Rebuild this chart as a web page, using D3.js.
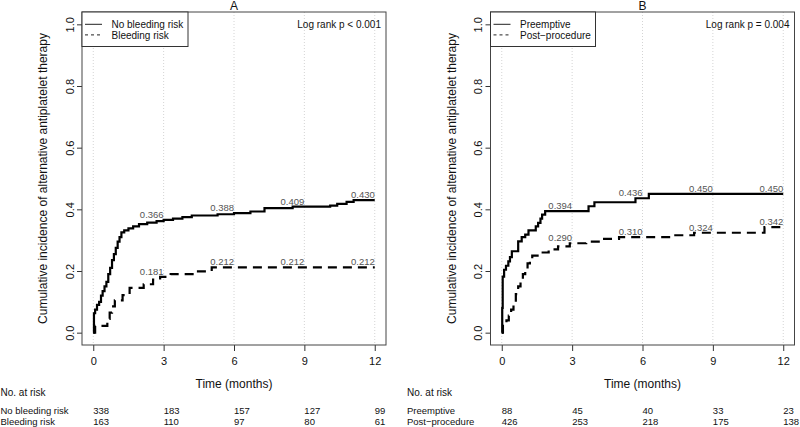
<!DOCTYPE html>
<html>
<head>
<meta charset="utf-8">
<script src="https://cdn.jsdelivr.net/npm/d3@7"></script>
<style>
  html, body { margin: 0; padding: 0; background: #fff; }
  svg { display: block; font-family: "Liberation Sans", Arial, Helvetica, sans-serif; }
</style>
</head>
<body>
<svg id="chart" width="800" height="427"></svg>
<script>
// ---------- Data ----------
const xTicks = [0, 3, 6, 9, 12];
const yTicks = [0.0, 0.2, 0.4, 0.6, 0.8, 1.0];
const yTickLabels = ["0.0", "0.2", "0.4", "0.6", "0.8", "1.0"];
const annotTimes = [3, 6, 9, 12];

// Panel A
const titleA = "A";
const seriesNamesA = ["No bleeding risk", "Bleeding risk"];
const pValueA = "Log rank p < 0.001";
const noBleedTime = [0, 0.03, 0.08, 0.16, 0.25, 0.33, 0.4, 0.48, 0.56, 0.64, 0.72, 0.8, 0.88, 0.96, 1.04, 1.12, 1.2, 1.32, 1.5, 1.7, 1.95, 2.3, 2.7, 3.0, 3.4, 3.8, 4.2, 5.3, 6.0, 6.7, 7.3, 8.5, 10.1, 10.4, 10.8, 11.1];
const noBleedValue = [0, 0.063, 0.075, 0.09, 0.1, 0.12, 0.135, 0.15, 0.165, 0.19, 0.21, 0.235, 0.255, 0.275, 0.295, 0.31, 0.325, 0.332, 0.338, 0.345, 0.352, 0.357, 0.362, 0.366, 0.370, 0.375, 0.380, 0.384, 0.388, 0.393, 0.404, 0.409, 0.412, 0.418, 0.424, 0.430];
const bleedTime = [0, 0.08, 0.6, 0.7, 0.8, 0.92, 1.25, 1.55, 2.15, 2.55, 2.85, 3.3, 4.3, 5.05];
const bleedValue = [0, 0.022, 0.045, 0.065, 0.085, 0.105, 0.122, 0.145, 0.157, 0.172, 0.181, 0.19, 0.199, 0.212];
const noBleedAnnot = [0.366, 0.388, 0.409, 0.430];
const bleedAnnot = [0.181, 0.212, 0.212, 0.212];
const noBleedAtRisk = [338, 183, 157, 127, 99];
const bleedAtRisk = [163, 110, 97, 80, 61];

// Panel B
const titleB = "B";
const seriesNamesB = ["Preemptive", "Post\u2212procedure"];
const pValueB = "Log rank p = 0.004";
const preTime = [0, 0.02, 0.04, 0.1, 0.18, 0.28, 0.35, 0.43, 0.7, 0.85, 1.0, 1.14, 1.45, 1.55, 1.65, 1.72, 1.85, 3.7, 3.95, 5.7, 6.27];
const preValue = [0, 0.08, 0.182, 0.204, 0.217, 0.231, 0.245, 0.264, 0.296, 0.31, 0.318, 0.332, 0.345, 0.356, 0.37, 0.383, 0.394, 0.41, 0.423, 0.436, 0.450];
const postTime = [0, 0.05, 0.2, 0.3, 0.4, 0.5, 0.6, 0.7, 0.8, 0.9, 1.0, 1.1, 1.2, 1.3, 1.6, 2.0, 2.4, 2.9, 3.6, 4.2, 5.0, 7.4, 8.2, 11.2];
const postValue = [0, 0.03, 0.04, 0.055, 0.075, 0.1, 0.125, 0.15, 0.17, 0.19, 0.205, 0.225, 0.24, 0.25, 0.26, 0.27, 0.28, 0.29, 0.295, 0.304, 0.31, 0.316, 0.324, 0.342];
const preAnnot = [0.394, 0.436, 0.450, 0.450];
const postAnnot = [0.290, 0.310, 0.324, 0.342];
const preAtRisk = [88, 45, 40, 33, 23];
const postAtRisk = [426, 253, 218, 175, 138];

const yAxisLabel = "Cumulative incidence of alternative antiplatelet therapy";
const xAxisLabel = "Time (months)";
const atRiskTitle = "No. at risk";

// ---------- Drawing ----------
const svg = d3.select("#chart");
const plotTop = 12, plotBottom = 345;
const yScale = d3.scaleLinear().domain([-0.04, 1.04]).range([plotBottom, plotTop]);

function drawPanel(cfg) {
  const g = svg.append("g");
  const x = d3.scaleLinear().domain([-0.48, 12.48]).range([cfg.left, cfg.right]);
  const y = yScale;

  // grid
  g.selectAll("line.grid").data(xTicks).join("line")
    .attr("x1", d => x(d)).attr("x2", d => x(d))
    .attr("y1", plotTop).attr("y2", plotBottom)
    .attr("stroke", "#d4d4d4").attr("stroke-width", 1).attr("stroke-dasharray", "1,2");

  // x axis
  const xAxis = d3.axisBottom(x).tickValues(xTicks).tickSize(6).tickPadding(6).tickFormat(d3.format("d"));
  const gx = g.append("g").attr("transform", `translate(0,${plotBottom})`).call(xAxis);
  gx.select(".domain").remove();
  gx.selectAll(".tick line").attr("stroke", "#333");
  gx.selectAll(".tick text").attr("font-size", 11).attr("fill", "#111")
    .attr("font-family", "Liberation Sans, Arial, sans-serif").attr("dy", "0.71em");

  // y axis
  const yAxis = d3.axisLeft(y).tickValues(yTicks).tickSize(5).tickFormat((d, i) => yTickLabels[i]);
  const gy = g.append("g").attr("transform", `translate(${cfg.left},0)`).call(yAxis);
  gy.select(".domain").remove();
  gy.selectAll(".tick line").attr("stroke", "#333");
  gy.selectAll(".tick text")
    .attr("font-size", 11).attr("fill", "#111")
    .attr("font-family", "Liberation Sans, Arial, sans-serif")
    .attr("x", null).attr("dy", null)
    .attr("text-anchor", "middle")
    .attr("transform", "translate(-12.5,0) rotate(-90)")
    .attr("dominant-baseline", "central");

  // box
  g.append("rect").attr("x", cfg.left).attr("y", plotTop)
    .attr("width", cfg.right - cfg.left).attr("height", plotBottom - plotTop)
    .attr("fill", "none").attr("stroke", "#444").attr("stroke-width", 1);

  // curves
  const stepLine = d3.line().x(d => x(d[0])).y(d => y(d[1])).curve(d3.curveStepAfter);
  cfg.series.forEach((s, si) => {
    const pts = s.t.map((t, i) => [t, s.v[i]]);
    pts.push([12, s.v[s.v.length - 1]]);
    g.append("path").datum(pts).attr("d", stepLine)
      .attr("fill", "none").attr("stroke", "#000").attr("stroke-width", 2.2)
      .attr("stroke-dasharray", si === 1 ? "9,6" : null);
    // annotations
    g.selectAll(null).data(s.annot).join("text")
      .attr("x", (d, i) => x(annotTimes[i]))
      .attr("y", d => y(d) - 2)
      .attr("text-anchor", "end")
      .attr("font-size", 9.5).attr("fill", "#555")
      .text(d => d3.format(".3f")(d));
  });

  // legend
  const lg = g.append("g");
  lg.append("rect").attr("x", cfg.left).attr("y", plotTop).attr("width", cfg.legendW).attr("height", 34.5)
    .attr("fill", "#fff").attr("stroke", "#333").attr("stroke-width", 1);
  cfg.names.forEach((n, i) => {
    const ly = 24.3 + i * 10.6;
    lg.append("line").attr("x1", cfg.left + 3).attr("x2", cfg.left + 20)
      .attr("y1", ly).attr("y2", ly).attr("stroke", "#222").attr("stroke-width", 1)
      .attr("stroke-dasharray", i === 1 ? "3,3" : null);
    lg.append("text").attr("x", cfg.left + 29.5).attr("y", ly + 3.6)
      .attr("font-size", 10).attr("fill", "#111").text(n);
  });

  // p-value
  g.append("text").attr("x", cfg.right - 5).attr("y", 27.8).attr("text-anchor", "end")
    .attr("font-size", 10).attr("fill", "#111").text(cfg.pValue);

  // title
  g.append("text").attr("x", x(6)).attr("y", 9.5).attr("text-anchor", "middle")
    .attr("font-size", 12).attr("fill", "#111").text(cfg.title);

  // axis labels
  g.append("text").attr("x", x(6)).attr("y", 387.5).attr("text-anchor", "middle")
    .attr("font-size", 12).attr("fill", "#111").text(xAxisLabel);
  g.append("text").attr("transform", `translate(${cfg.left - 39},${(plotTop + plotBottom) / 2}) rotate(-90)`)
    .attr("text-anchor", "middle").attr("dominant-baseline", "central")
    .attr("font-size", 12).attr("fill", "#111").text(yAxisLabel);

  // risk table
  g.append("text").attr("x", cfg.tableX).attr("y", 395.5).attr("font-size", 10).attr("fill", "#111").text(atRiskTitle);
  cfg.atRisk.forEach((row, ri) => {
    const ry = 413.5 + ri * 11;
    g.append("text").attr("x", cfg.tableX).attr("y", ry).attr("font-size", 9.5).attr("fill", "#111").text(cfg.names[ri]);
    g.selectAll(null).data(row).join("text")
      .attr("x", (d, i) => x(xTicks[i])).attr("y", ry)
      .attr("font-size", 9.5).attr("fill", "#111").text(d => d);
  });
}

drawPanel({
  left: 82, right: 386, legendW: 106, tableX: 0.5,
  title: titleA, pValue: pValueA, names: seriesNamesA,
  series: [
    { t: noBleedTime, v: noBleedValue, annot: noBleedAnnot },
    { t: bleedTime, v: bleedValue, annot: bleedAnnot }
  ],
  atRisk: [noBleedAtRisk, bleedAtRisk]
});
drawPanel({
  left: 490.5, right: 794.5, legendW: 105, tableX: 407,
  title: titleB, pValue: pValueB, names: seriesNamesB,
  series: [
    { t: preTime, v: preValue, annot: preAnnot },
    { t: postTime, v: postValue, annot: postAnnot }
  ],
  atRisk: [preAtRisk, postAtRisk]
});
</script>
</body>
</html>
